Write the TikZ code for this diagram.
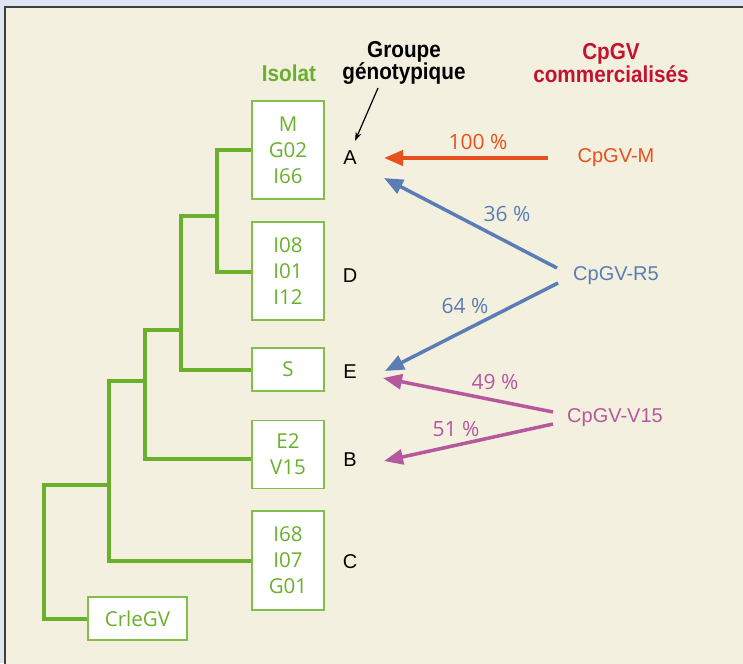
\documentclass[tikz,border=0pt]{standalone}
\usepackage{fontspec}
\setmainfont{Open Sans}
\newfontfamily\arialf{Liberation Sans}
\newfontfamily\hdrf[FakeStretch=0.9]{Liberation Sans}
\usetikzlibrary{arrows.meta}
\definecolor{outerbg}{HTML}{DFE5F2}
\definecolor{cream}{HTML}{F4F0DF}
\definecolor{treegreen}{HTML}{6AB02C}
\definecolor{boxgreen}{HTML}{82BE4C}
\definecolor{arrred}{HTML}{E8501E}
\definecolor{arrblue}{HTML}{5A7DB5}
\definecolor{arrpurple}{HTML}{B5589E}
\definecolor{hdrred}{HTML}{C4122F}
\tikzset{
  isobox/.style={draw=boxgreen, line width=1.2pt, fill=white, text=treegreen, align=center, inner sep=0pt,
     font=\fontsize{20.5}{26}\selectfont},
  tree/.style={draw=treegreen, line width=4pt, line join=miter},
  grp/.style={font=\arialf\fontsize{20}{22}\selectfont, text=black},
  src/.style={font=\arialf\fontsize{20}{22}\selectfont},
  pct/.style={font=\fontsize{21}{24}\selectfont},
  hdr/.style={font=\hdrf\bfseries\fontsize{23}{21}\selectfont, align=center, inner sep=0pt},
  bigarrow/.style={line width=4pt, -{Triangle[length=19pt,width=15pt]}, shorten >=0pt},
}
\begin{document}
\begin{tikzpicture}[x=1pt,y=-1pt]
\useasboundingbox (0,0) rectangle (743,663);
\fill[outerbg] (0,0) rectangle (743,663);
\filldraw[fill=cream, draw=black!75, line width=1.5pt] (5,7) rectangle (760,680);

% headers
\node[hdr, text=treegreen] (hiso) at (289,73) {Isolat};
\node[hdr, text=black] (hgrp) at (404,63) {Groupe\\génotypique};
\node[hdr, text=hdrred] (hcom) at (611,63) {CpGV\\commercialisés};

% isolate boxes
\node[isobox, minimum width=72pt, minimum height=98pt] (b1) at (288,150) {M\\G02\\I66};
\node[isobox, minimum width=72pt, minimum height=98pt] (b2) at (288,271) {I08\\I01\\I12};
\node[isobox, minimum width=72pt, minimum height=43pt] (b3) at (288,369.5) {S};
\node[isobox, minimum width=72pt, minimum height=68pt] (b4) at (288,454.5) {E2\\V15};
\node[isobox, minimum width=72pt, minimum height=99pt] (b5) at (288,560.5) {I68\\I07\\G01};
\node[isobox, minimum width=99pt, minimum height=43pt] (b6) at (137.5,618.5) {CrleGV};

% tree junctions
\coordinate (j1t) at (217,150);
\coordinate (j1b) at (217,272);
\coordinate (j1m) at (217,216);
\coordinate (j2t) at (181,216);
\coordinate (j2b) at (181,369.5);
\coordinate (j2m) at (181,330);
\coordinate (j3t) at (145,330);
\coordinate (j3b) at (145,459);
\coordinate (j3m) at (145,381);
\coordinate (j4t) at (109,381);
\coordinate (j4b) at (109,560.5);
\coordinate (j4m) at (109,485);
\coordinate (j5t) at (44,485);
\coordinate (j5b) at (44,618.5);

\draw[tree] (b1.west) -- (j1t) -- (j1b) -- (b2.west |- j1b);
\draw[tree] (j1m) -- (j2t) -- (j2b) -- (b3.west);
\draw[tree] (j2m) -- (j3t) -- (j3b) -- (b4.west |- j3b);
\draw[tree] (j3m) -- (j4t) -- (j4b) -- (b5.west);
\draw[tree] (j4m) -- (j5t) -- (j5b) -- (b6.west);

% group letters
\node[grp] (gA) at (350,158) {A};
\node[grp] (gD) at (350,276) {D};
\node[grp] (gE) at (350,372) {E};
\node[grp] (gB) at (350,460) {B};
\node[grp] (gC) at (350,562) {C};

% commercial products
\node[src, text=arrred] (cM) at (616,158) {CpGV-M};
\node[src, text=arrblue] (cR) at (616,276) {CpGV-R5};
\node[src, text=arrpurple] (cV) at (615,418) {CpGV-V15};

% arrow endpoints
\coordinate (sM) at (548,158);
\coordinate (tMA) at (384,158);
\coordinate (sRA) at (557,268);
\coordinate (tRA) at (384,178);
\coordinate (sRE) at (558,283);
\coordinate (tRE) at (385,371);
\coordinate (sVE) at (553,412);
\coordinate (tVE) at (383,378);
\coordinate (sVB) at (553,424);
\coordinate (tVB) at (384,461);
\coordinate (gtop) at (378,88);
\coordinate (gtip) at (355,141);

\draw[arrred, bigarrow] (sM) -- (tMA);
\draw[arrblue, bigarrow, line width=3.5pt] (sRA) -- (tRA);
\draw[arrblue, bigarrow, line width=3.5pt] (sRE) -- (tRE);
\draw[arrpurple, bigarrow, line width=3.5pt] (sVE) -- (tVE);
\draw[arrpurple, bigarrow, line width=3.5pt] (sVB) -- (tVB);
\draw[black, line width=1.2pt, -{Stealth[length=9pt,width=6pt]}] (gtop) -- (gtip);

% percentages
\node[pct, text=arrred] (p100) at (478,142) {100 \%};
\node[pct, text=arrblue] (p36) at (507,214) {36 \%};
\node[pct, text=arrblue] (p64) at (465,306) {64 \%};
\node[pct, text=arrpurple] (p49) at (495,382) {49 \%};
\node[pct, text=arrpurple] (p51) at (456,429) {51 \%};
\end{tikzpicture}
\end{document}
